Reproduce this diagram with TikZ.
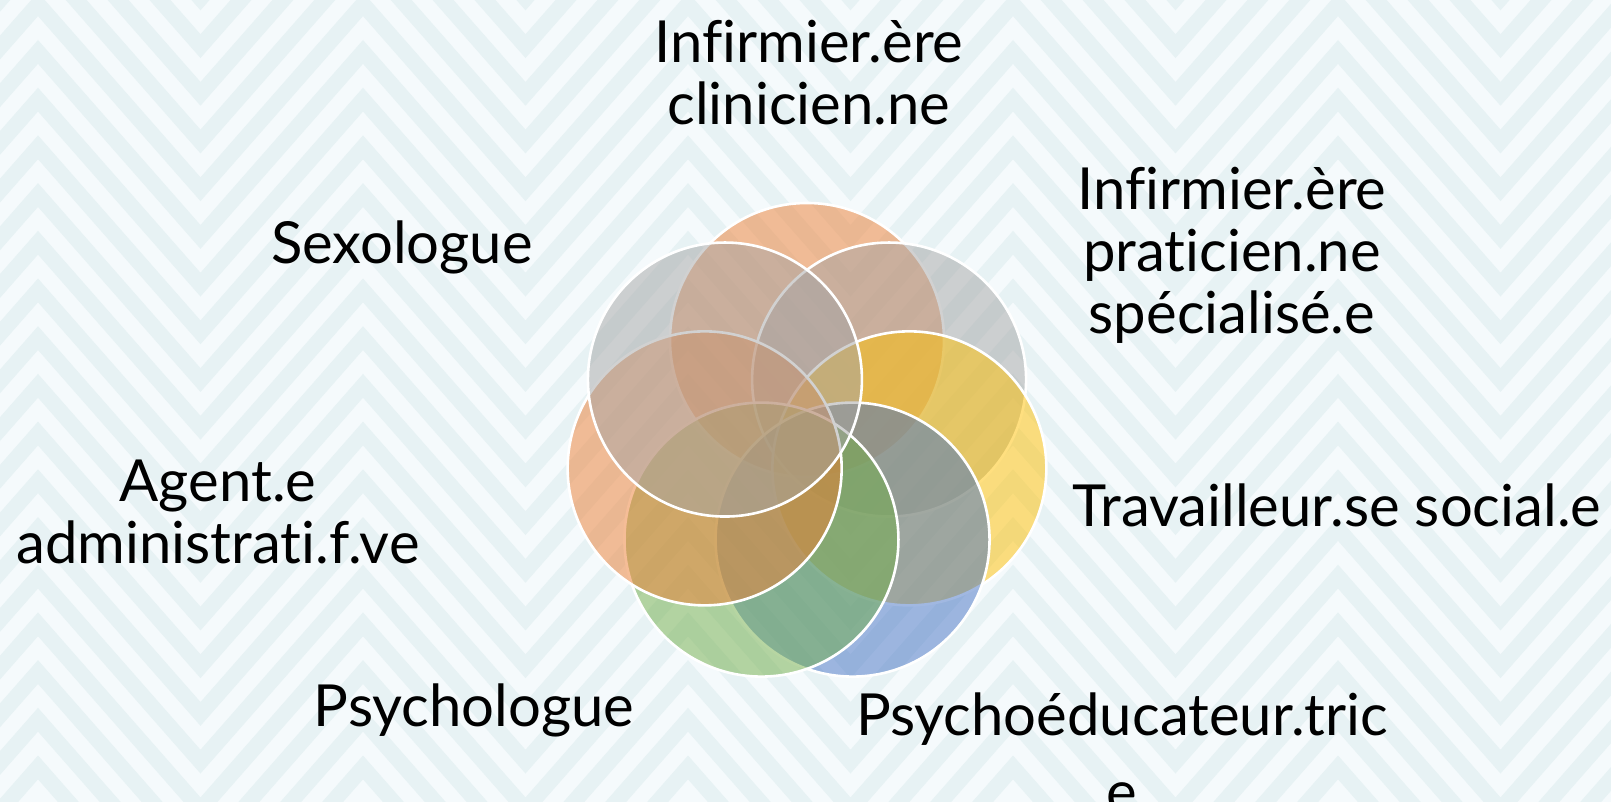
\documentclass[tikz,border=0pt]{standalone}
\usepackage{fontspec}
\setmainfont{Lato}[Ligatures=NoCommon]

\definecolor{paper}{HTML}{F5FAFC}
\definecolor{chevron}{HTML}{E7F2F4}
\definecolor{accOrange}{HTML}{ED7D31}
\definecolor{accGray}{HTML}{A5A5A5}
\definecolor{accGold}{HTML}{FFC000}
\definecolor{accBlue}{HTML}{4472C4}
\definecolor{accGreen}{HTML}{70AD47}

\tikzset{
  venn/.style={circle, draw=white, line width=1.3pt, fill opacity=.5,
    minimum size=137pt, inner sep=0pt},
  role/.style={align=center, font=\fontsize{29}{31}\selectfont},
}

\begin{document}
\begin{tikzpicture}[x=0.5pt, y=-0.5pt]
  \useasboundingbox (0,0) rectangle (1611,802);

  % zigzag paper
  \begin{scope}
    \clip (0,0) rectangle (1611,802);
    \fill[paper] (0,0) rectangle (1611,802);
    \foreach \j in {-6,...,17}{
      \pgfmathsetmacro\p{40+47.7*\j}
      \fill[chevron] (-287,\p)
        \foreach \m in {-1,...,4}{ -- ({200.5+325*\m},{\p+185}) -- ({363+325*\m},\p) }
        -- (1663,{\p+23.85})
        \foreach \m in {4,...,-1}{ -- ({200.5+325*\m},{\p+208.85}) -- ({38+325*\m},{\p+23.85}) }
        -- cycle;
    }
  \end{scope}

  % ring of seven circles
  \begin{scope}[shift={(807,445)}]
    \foreach \col [count=\i] in {accOrange,accGray,accGold,accBlue,accGreen,accOrange,accGray}
      \node[venn, fill=\col] (venn\i) at ({-90+(\i-1)*360/7}:105) {};
  \end{scope}

  \node[role] (clin) at (809,73) {Infirmier.ère\\clinicien.ne};
  \node[role] (prat) at (1232,255) {Infirmier.ère\\praticien.ne\\spécialisé.e};
  \node[role] (trav) at (1337,505) {Travailleur.se social.e};
  \node[role] (psyed) at (1122,753) {Psychoéducateur.tric\\[7.5pt]e};
  \node[role] (psylo) at (474,710) {Psychologue};
  \node[role] (agent) at (218,512) {Agent.e\\administrati.f.ve};
  \node[role] (sexo) at (402,247) {Sexologue};
\end{tikzpicture}
\end{document}
